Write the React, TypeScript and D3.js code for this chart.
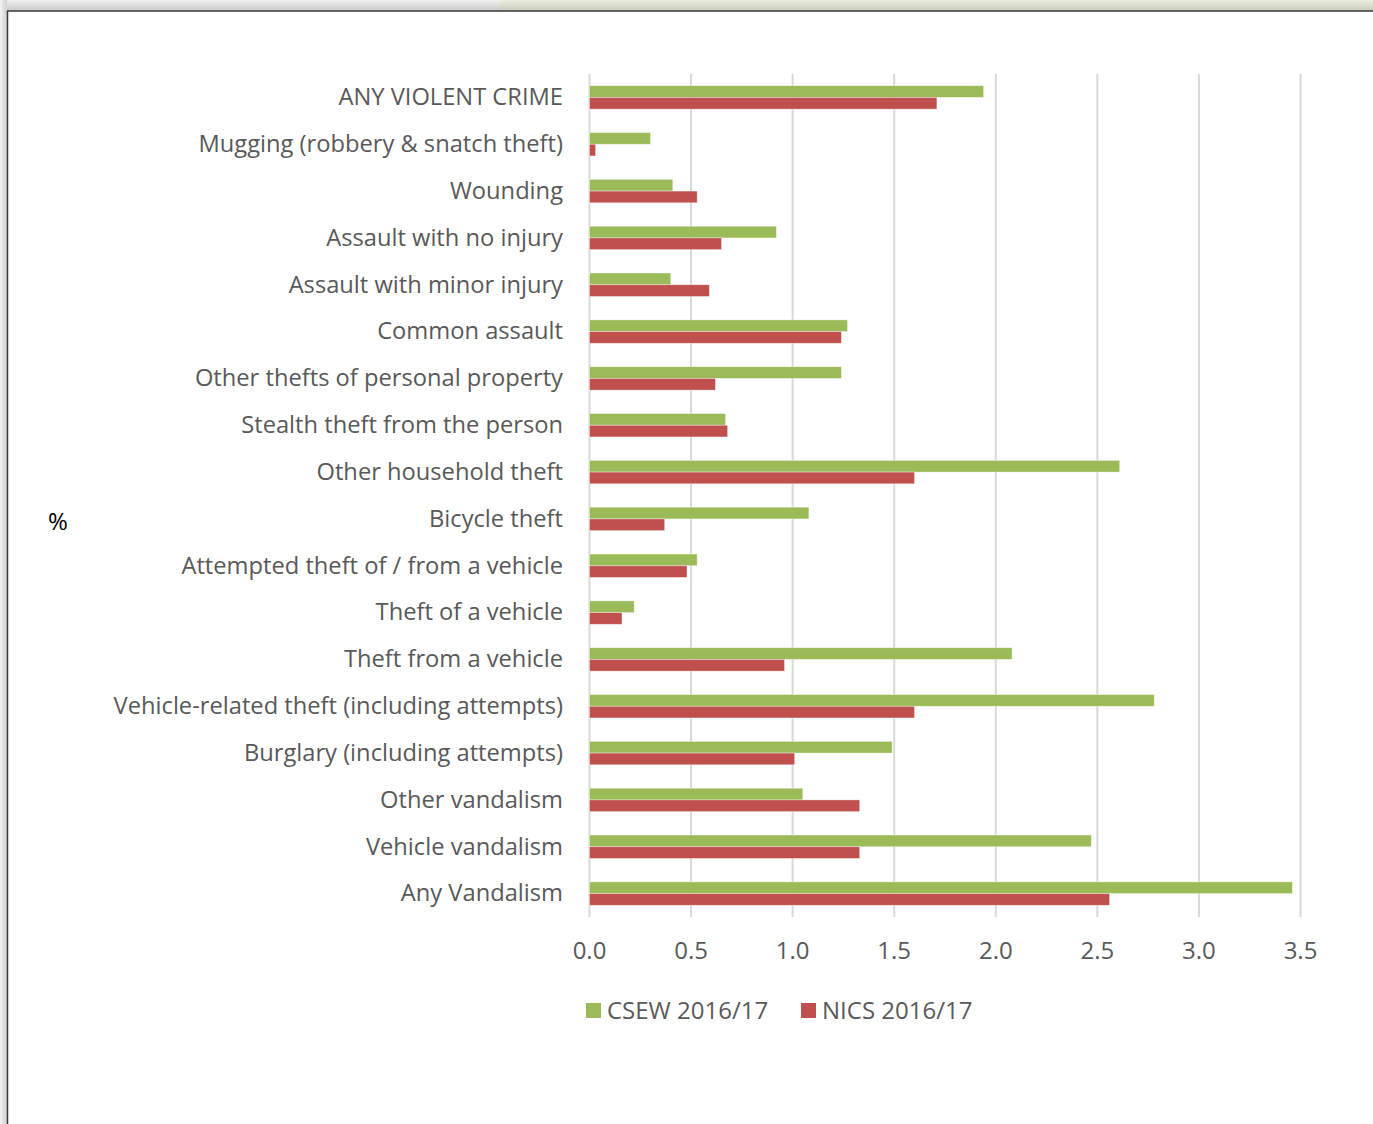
import React from "react";
import * as d3 from "d3";

const categories = [
  "ANY VIOLENT CRIME",
  "Mugging (robbery & snatch theft)",
  "Wounding",
  "Assault with no injury",
  "Assault with minor injury",
  "Common assault",
  "Other thefts of personal property",
  "Stealth theft from the person",
  "Other household theft",
  "Bicycle theft",
  "Attempted theft of / from a vehicle",
  "Theft of a vehicle",
  "Theft from a vehicle",
  "Vehicle-related theft (including attempts)",
  "Burglary (including attempts)",
  "Other vandalism",
  "Vehicle vandalism",
  "Any Vandalism",
];

const csew = [1.94, 0.3, 0.41, 0.92, 0.4, 1.27, 1.24, 0.67, 2.61, 1.08, 0.53, 0.22, 2.08, 2.78, 1.49, 1.05, 2.47, 3.46];
const nics = [1.71, 0.03, 0.53, 0.65, 0.59, 1.24, 0.62, 0.68, 1.6, 0.37, 0.48, 0.16, 0.96, 1.6, 1.01, 1.33, 1.33, 2.56];

const seriesNames = ["CSEW 2016/17", "NICS 2016/17"];
const seriesColors = ["#9BBB59", "#C0504D"];
const xTicks = [0, 0.5, 1.0, 1.5, 2.0, 2.5, 3.0, 3.5];

const W = 1373;
const H = 1124;
const FONT = "'Open Sans', 'Noto Sans', sans-serif";

export default function App() {
  const x = d3.scaleLinear().domain([0, 3.5]).range([589.5, 1300.5]);
  const y = d3.scaleBand<string>().domain(categories).range([74, 917]).paddingInner(0.5).paddingOuter(0.25);
  const sub = d3.scaleBand<string>().domain(seriesNames).range([0, y.bandwidth()]);
  const series = [csew, nics];

  return (
    <svg width={W} height={H} style={{ position: "absolute", left: 0, top: 0, display: "block" }}>
      <defs>
        <linearGradient id="topbar" x1="0" y1="0" x2="0" y2="1">
          <stop offset="0" stopColor="#f0f0f0" />
          <stop offset="1" stopColor="#c8c8c8" />
        </linearGradient>
        <linearGradient id="topbarG" x1="0" y1="0" x2="0" y2="1">
          <stop offset="0" stopColor="#eaeedc" />
          <stop offset="1" stopColor="#c9cbbd" />
        </linearGradient>
        <linearGradient id="leftbar" x1="0" y1="0" x2="1" y2="0">
          <stop offset="0" stopColor="#f4f4f4" />
          <stop offset="1" stopColor="#cfcfcf" />
        </linearGradient>
      </defs>
      <rect x={0} y={0} width={W} height={H} fill="#ffffff" />
      <rect x={0} y={0} width={500} height={11} fill="url(#topbar)" />
      <rect x={500} y={0} width={W - 500} height={11} fill="url(#topbarG)" />
      <rect x={0} y={0} width={7} height={H} fill="url(#leftbar)" />
      <line x1={7} y1={11} x2={W} y2={11} stroke="#3a3a3a" strokeWidth={1.5} />
      <line x1={7.5} y1={11} x2={7.5} y2={H} stroke="#3a3a3a" strokeWidth={1.5} />

      {xTicks.map((t) => (
        <line key={"g" + t} x1={x(t)} x2={x(t)} y1={74} y2={917} stroke="#d9d9d9" strokeWidth={2} />
      ))}

      {categories.map((c, i) => (
        <g key={c}>
          {series.map((s, j) => (
            <rect
              key={j}
              x={x(0)}
              y={(y(c) as number) + (sub(seriesNames[j]) as number)}
              width={x(s[i]) - x(0)}
              height={sub.bandwidth()}
              fill={seriesColors[j]}
              stroke="#ffffff"
              strokeOpacity={0.5}
              strokeWidth={0.75}
            />
          ))}
          <text
            x={563}
            y={(y(c) as number) + y.bandwidth() / 2}
            dy="0.33em"
            textAnchor="end"
            fontFamily={FONT}
            fontSize={23.7}
            fill="#595959"
          >
            {c}
          </text>
        </g>
      ))}

      {xTicks.map((t) => (
        <text
          key={"t" + t}
          x={x(t)}
          y={951}
          dy="0.35em"
          textAnchor="middle"
          fontFamily={FONT}
          fontSize={24}
          fill="#595959"
        >
          {d3.format(".1f")(t)}
        </text>
      ))}

      <text x={58} y={522} dy="0.35em" textAnchor="middle" fontFamily={FONT} fontSize={24} fill="#000000">
        %
      </text>

      {seriesNames.map((n, j) => {
        const lx = j === 0 ? 586 : 801;
        return (
          <g key={n}>
            <rect x={lx} y={1003} width={15} height={15} fill={seriesColors[j]} />
            <text x={lx + 21} y={1010.5} dy="0.35em" fontFamily={FONT} fontSize={24} fill="#595959">
              {n}
            </text>
          </g>
        );
      })}
    </svg>
  );
}
